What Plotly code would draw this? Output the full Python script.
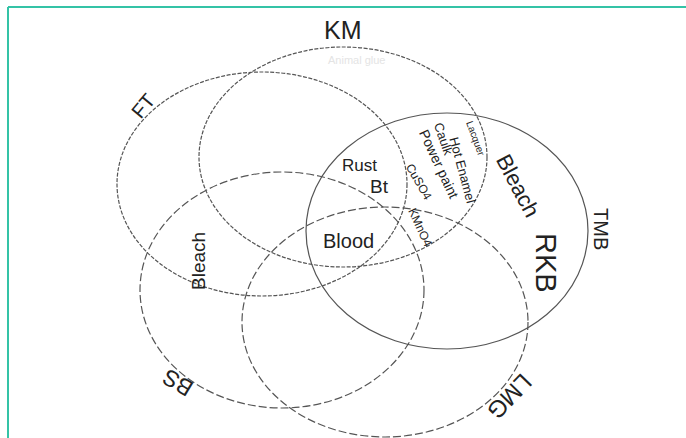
import plotly.graph_objects as go

# ---- data: sets of the diagram and the items placed in the regions ----
set_names = ["FT", "KM", "TMB", "BS", "LMG"]
item_labels = ["Rust", "Bt", "Blood", "Bleach", "Bleach", "RKB",
               "Power paint", "Caulk", "Hot Enamel", "Lacquer", "CuSO4", "KMnO4"]
faint_label = "Animal glue"

# ---- geometry (layout, in canvas pixel units) ----
set_cx = [262, 343, 447, 282, 385]
set_cy = [184, 157, 231, 290, 322]
set_rx = [145, 144, 141, 142, 143]
set_ry = [112, 110, 118, 118, 115]
set_dash = ["4px,1.5px", "4px,1.5px", "solid", "8px,3px", "8px,3px"]

set_lab_x = [143, 343, 601, 178, 510]
set_lab_y = [106, 30, 229, 383, 397]
set_lab_ang = [-50, 0, 90, -149, 134]
set_lab_size = [20, 25, 20, 23, 24]

item_x = [359, 379, 348, 198, 518, 546, 439, 444, 463, 476, 419, 420]
item_y = [165, 186, 241, 261, 185, 263, 164, 139, 170, 138, 182, 227]
item_ang = [0, 0, 0, -90, 62, 90, 65, 71, 75, 70, 60, 65]
item_size = [17, 19, 20, 19, 22, 29, 14, 13, 13, 10, 12, 12]

fig = go.Figure()

shapes = []
for cx, cy, rx, ry, dash in zip(set_cx, set_cy, set_rx, set_ry, set_dash):
    shapes.append(dict(type="circle", xref="x", yref="y",
                       x0=cx - rx, x1=cx + rx, y0=cy - ry, y1=cy + ry,
                       line=dict(color="#555555", width=1.2, dash=dash),
                       fillcolor="rgba(0,0,0,0)"))
# teal frame (top and left edges)
shapes.append(dict(type="line", xref="x", yref="y", x0=8, x1=686, y0=7, y1=7,
                   line=dict(color="#34c3a6", width=2)))
shapes.append(dict(type="line", xref="x", yref="y", x0=8, x1=8, y0=7, y1=438,
                   line=dict(color="#34c3a6", width=2)))

annotations = []
font_fam = "Liberation Sans, Arial, sans-serif"
for t, x, y, a, s in zip(set_names, set_lab_x, set_lab_y, set_lab_ang, set_lab_size):
    annotations.append(dict(text=t, x=x, y=y, xref="x", yref="y", showarrow=False,
                            textangle=a, font=dict(size=s, color="#222222", family=font_fam)))
for t, x, y, a, s in zip(item_labels, item_x, item_y, item_ang, item_size):
    annotations.append(dict(text=t, x=x, y=y, xref="x", yref="y", showarrow=False,
                            textangle=a, font=dict(size=s, color="#222222", family=font_fam)))
annotations.append(dict(text=faint_label, x=356, y=60, xref="x", yref="y", showarrow=False,
                        font=dict(size=11, color="#e4e4e4", family=font_fam)))

# invisible trace to establish the axes
fig.add_trace(go.Scatter(x=[0, 686], y=[0, 438], mode="markers",
                         marker=dict(opacity=0), hoverinfo="skip", showlegend=False))

fig.update_layout(
    width=686, height=438,
    margin=dict(l=0, r=0, t=0, b=0),
    paper_bgcolor="white", plot_bgcolor="white",
    shapes=shapes, annotations=annotations,
    xaxis=dict(range=[0, 686], visible=False, fixedrange=True),
    yaxis=dict(range=[438, 0], visible=False, fixedrange=True),
    showlegend=False,
)

fig.write_html("out.html", config={"displayModeBar": False},
               post_script="document.body.style.margin='0px';")
